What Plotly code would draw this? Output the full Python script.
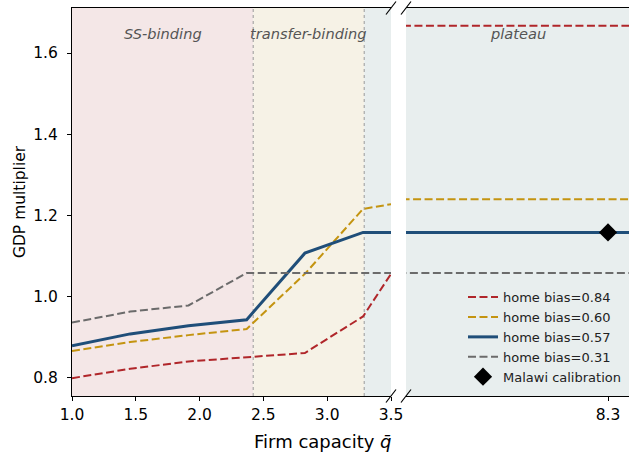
import plotly.graph_objects as go

# Firm-capacity grid (q-bar) on which the GDP multiplier was solved
q_grid = [1.0, 1.456, 1.913, 2.369, 2.825, 3.281, 3.738, 4.194, 4.650,
          5.106, 5.563, 6.019, 6.475, 6.931, 7.388, 7.844, 8.300, 8.756]

# GDP multiplier by home-bias parameter
mult_084 = [0.799, 0.822, 0.840, 0.851, 0.861, 0.951, 1.170, 1.667, 1.667,
            1.667, 1.667, 1.667, 1.667, 1.667, 1.667, 1.667, 1.667, 1.667]
mult_060 = [0.866, 0.888, 0.905, 0.920, 1.056, 1.216, 1.240, 1.240, 1.240,
            1.240, 1.240, 1.240, 1.240, 1.240, 1.240, 1.240, 1.240, 1.240]
mult_057 = [0.879, 0.908, 0.928, 0.943, 1.107, 1.158, 1.158, 1.158, 1.158,
            1.158, 1.158, 1.158, 1.158, 1.158, 1.158, 1.158, 1.158, 1.158]
mult_031 = [0.936, 0.963, 0.978, 1.058, 1.058, 1.058, 1.058, 1.058, 1.058,
            1.058, 1.058, 1.058, 1.058, 1.058, 1.058, 1.058, 1.058, 1.058]

series_labels = ["home bias=0.84", "home bias=0.60", "home bias=0.57", "home bias=0.31"]
series_values = [mult_084, mult_060, mult_057, mult_031]

# Malawi calibration point
calib_q = [8.3]
calib_mult = [1.158]

# Regime boundaries in q-bar and their names
regime_edges = [1.0, 2.42, 3.29]
regime_names = ["SS-binding", "transfer-binding", "plateau"]

left_ticks = [1.0, 1.5, 2.0, 2.5, 3.0, 3.5]
right_ticks = [8.3]
y_ticks = [0.8, 1.0, 1.2, 1.4, 1.6]

styles = [
    dict(color="#b0262a", width=2, dash="8px,3.5px"),
    dict(color="#c49410", width=2, dash="8px,3.5px"),
    dict(color="#1f4e79", width=3, dash="solid"),
    dict(color="#6b6b6b", width=2, dash="8px,3.5px"),
]

W, H = 629, 455
ML, MR, MT, MB = 72, 0, 8, 59
plot_w = W - ML - MR
plot_h = H - MT - MB
left_dom = [0, (391 - ML) / plot_w]
right_dom = [(406 - ML) / plot_w, 1]

fig = go.Figure()

for name, vals, st in zip(series_labels, series_values, styles):
    fig.add_trace(go.Scatter(x=q_grid, y=vals, mode="lines", name=name,
                             line=st, xaxis="x", yaxis="y"))

for name, vals, st in zip(series_labels, series_values, styles):
    fig.add_trace(go.Scatter(x=q_grid, y=vals, mode="lines", name=name,
                             line=st, xaxis="x2", yaxis="y2", showlegend=False))

fig.add_trace(go.Scatter(x=calib_q, y=calib_mult, mode="markers",
                         name="Malawi calibration",
                         marker=dict(symbol="diamond", size=14, color="black"),
                         xaxis="x2", yaxis="y2"))

region_colors = ["#f4e7e7", "#f6f2e6", "#e8eeee"]
shapes = []
bounds = regime_edges + [3.5]
for i in range(3):
    shapes.append(dict(type="rect", xref="x", yref="y domain",
                       x0=bounds[i], x1=bounds[i + 1], y0=0, y1=1,
                       fillcolor=region_colors[i], line=dict(width=0), layer="below"))
shapes.append(dict(type="rect", xref="x2 domain", yref="y2 domain",
                   x0=0, x1=1, y0=0, y1=1,
                   fillcolor=region_colors[2], line=dict(width=0), layer="below"))
for xb in regime_edges[1:]:
    shapes.append(dict(type="line", xref="x", yref="y domain", x0=xb, x1=xb,
                       y0=0, y1=1, line=dict(color="#999999", width=1, dash="dot"),
                       layer="below"))

# diagonal break marks at the axis gap
def px_to_paper(px, py):
    return (px - ML) / plot_w, (H - MB - py) / plot_h

for cx in (391, 406):
    for cy in (MT, H - MB):
        x0, y0 = px_to_paper(cx - 5, cy + 6.5)
        x1, y1 = px_to_paper(cx + 5, cy - 6.5)
        shapes.append(dict(type="line", xref="paper", yref="paper",
                           x0=x0, y0=y0, x1=x1, y1=y1,
                           line=dict(color="black", width=1.2)))

annotations = []
label_font = dict(family="DejaVu Sans", size=14.6, color="#555555")
label_y = (H - MB - 34) / plot_h
mids = [(regime_edges[0] + regime_edges[1]) / 2, (regime_edges[1] + regime_edges[2]) / 2]
for xm, nm in zip(mids, regime_names[:2]):
    annotations.append(dict(x=xm, y=label_y, xref="x", yref="paper", yanchor="middle",
                            text=f"<i>{nm}</i>", showarrow=False, font=label_font))
annotations.append(dict(x=0.5, y=label_y, xref="x2 domain", yref="paper", yanchor="middle",
                        text=f"<i>{regime_names[2]}</i>", showarrow=False, font=label_font))
annotations.append(dict(x=(323 - ML) / plot_w, y=(H - MB - 441) / plot_h,
                        xref="paper", yref="paper", yanchor="middle", xanchor="center",
                        text="Firm capacity <i>q̄</i>",
                        showarrow=False, font=dict(family="DejaVu Sans", size=18, color="black")))

tick_font = dict(family="DejaVu Sans", size=15.5, color="black")
axis_common = dict(showgrid=False, zeroline=False, ticks="outside", ticklen=4,
                   tickcolor="black", tickwidth=1, tickfont=tick_font,
                   linecolor="black", linewidth=1.2)

fig.update_layout(
    width=W, height=H, autosize=False,
    margin=dict(l=ML, r=MR, t=MT, b=MB, pad=0),
    plot_bgcolor="white", paper_bgcolor="white",
    font=dict(family="DejaVu Sans"),
    xaxis=dict(domain=left_dom, range=[1.0, 3.5], tickvals=left_ticks,
               tickformat=".1f", showline=True, mirror=True, automargin=False,
               **axis_common),
    xaxis2=dict(domain=right_dom, range=[4.7, 8.674], tickvals=right_ticks,
                tickformat=".1f", showline=True, mirror=True, anchor="y2",
                automargin=False, **axis_common),
    yaxis=dict(range=[0.755, 1.711], tickvals=y_ticks, tickformat=".1f",
               showline=True, mirror=False, anchor="x", automargin=False,
               ticklabelstandoff=6,
               title=dict(text="GDP multiplier", font=dict(size=15.5, color="black"), standoff=3),
               **axis_common),
    yaxis2=dict(range=[0.755, 1.711], matches="y", anchor="x2", showline=False,
                showticklabels=False, ticks="", showgrid=False, zeroline=False),
    shapes=shapes,
    annotations=annotations,
    showlegend=True,
    legend=dict(x=(463 - ML) / plot_w, xanchor="left", y=0.01, yanchor="bottom",
                bgcolor="rgba(0,0,0,0)", font=dict(family="DejaVu Sans", size=13, color="#222222"),
                tracegroupgap=0),
)

fig.write_html("out.html", config={"responsive": False})
